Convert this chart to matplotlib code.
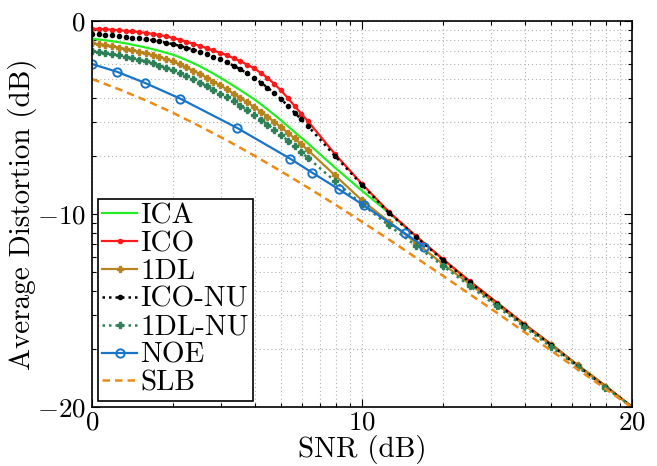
import numpy as np
import matplotlib
matplotlib.use("Agg")
import matplotlib.pyplot as plt
from matplotlib.ticker import FixedLocator, FixedFormatter

plt.rcParams["font.family"] = "cmr10"
plt.rcParams["mathtext.fontset"] = "cm"
plt.rcParams["axes.unicode_minus"] = False

# SNR grid of the simulated curves (dense at low SNR, 1 dB steps later)
snr = np.concatenate([np.arange(0, 8.01, 0.25), np.arange(9, 21)])

ica = [-0.92, -0.96, -1.00, -1.05, -1.10, -1.16, -1.23, -1.30, -1.38, -1.46, -1.55,
       -1.65, -1.75, -1.88, -2.03, -2.18, -2.35, -2.54, -2.73, -2.94, -3.15, -3.37,
       -3.59, -3.82, -4.05, -4.31, -4.58, -4.86, -5.15, -5.45, -5.75, -6.05, -6.35,
       -7.6, -8.8, -9.95, -11.15, -12.35, -13.5, -14.6, -15.7, -16.75, -17.85, -18.9, -20.0]
ico = [-0.40, -0.41, -0.43, -0.45, -0.48, -0.51, -0.54, -0.58, -0.62, -0.67, -0.73,
       -0.80, -0.88, -0.97, -1.07, -1.18, -1.30, -1.41, -1.53, -1.65, -1.78, -1.93,
       -2.09, -2.26, -2.45, -2.69, -2.95, -3.26, -3.60, -3.99, -4.40, -4.80, -5.20,
       -6.9, -8.45, -9.9, -11.15, -12.35, -13.5, -14.6, -15.7, -16.75, -17.85, -18.9, -20.0]
dl1 = [-1.16, -1.21, -1.26, -1.32, -1.38, -1.45, -1.52, -1.60, -1.68, -1.77, -1.87,
       -1.98, -2.10, -2.25, -2.41, -2.58, -2.75, -2.94, -3.14, -3.34, -3.55, -3.77,
       -3.99, -4.22, -4.45, -4.70, -4.96, -5.23, -5.50, -5.79, -6.08, -6.39, -6.70,
       -8.0, -9.3, -10.4, -11.5, -12.6, -13.65, -14.7, -15.75, -16.8, -17.85, -18.95, -20.0]
ico_nu = [-0.67, -0.69, -0.72, -0.75, -0.78, -0.82, -0.86, -0.90, -0.95, -1.00, -1.06,
          -1.13, -1.20, -1.29, -1.38, -1.48, -1.60, -1.72, -1.85, -1.99, -2.15, -2.32,
          -2.51, -2.72, -2.95, -3.19, -3.45, -3.74, -4.05, -4.39, -4.75, -5.10, -5.45,
          -7.0, -8.5, -9.95, -11.2, -12.4, -13.55, -14.65, -15.75, -16.8, -17.9, -18.95, -20.0]
dl1_nu = [-1.54, -1.59, -1.65, -1.71, -1.78, -1.85, -1.93, -2.01, -2.10, -2.20, -2.31,
          -2.43, -2.55, -2.70, -2.86, -3.03, -3.20, -3.38, -3.57, -3.76, -3.95, -4.17,
          -4.39, -4.62, -4.85, -5.11, -5.37, -5.63, -5.90, -6.20, -6.50, -6.80, -7.10,
          -8.3, -9.5, -10.6, -11.65, -12.7, -13.75, -14.8, -15.85, -16.9, -17.95, -19.0, -20.0]

noe_snr = [0, 0.94, 1.96, 3.26, 5.37, 7.33, 8.15, 9.14, 10.06, 11.58, 12.3]
noe = [-2.23, -2.64, -3.21, -4.02, -5.54, -7.13, -7.86, -8.72, -9.55, -11.0, -11.7]

slb_snr = list(range(0, 21))
slb = [-3.01, -3.54, -4.12, -4.76, -5.46, -6.19, -6.97, -7.79, -8.64, -9.51, -10.41,
       -11.33, -12.27, -13.21, -14.17, -15.13, -16.11, -17.08, -18.07, -19.05, -20.04]

fig = plt.figure(figsize=(6.57, 4.66), dpi=100)
ax = fig.add_axes([0.14, 0.127, 0.822, 0.828])

ax.plot(snr, ica, color="#22ee22", lw=1.6, label="ICA")
ax.plot(snr, ico, color="#ff1a1a", lw=1.6, marker=".", ms=6, label="ICO")
ax.plot(snr, dl1, color="#b8821c", lw=1.6, marker="P", ms=4, label="1DL")
ax.plot(snr, ico_nu, color="black", lw=1.8, ls=(0, (1, 1.6)), marker=".", ms=6, label="ICO-NU")
ax.plot(snr, dl1_nu, color="#2e8058", lw=1.8, ls=(0, (1, 1.6)), marker="P", ms=4.5, label="1DL-NU")
ax.plot(noe_snr, noe, color="#1874c8", lw=1.6, marker="o", ms=6, mfc="none", mew=1.4, label="NOE")
ax.plot(slb_snr, slb, color="#ec8a14", lw=1.8, ls=(0, (3, 2)), label="SLB")

ax.set_xlim(0, 20)
ax.set_ylim(-20, 0)

# log-style minor ticks (curves were drawn on log axes and relabelled in dB)
minor_x = [10 * np.log10(k) + d for d in (0, 10) for k in range(2, 10)]
minor_y = [10 * np.log10(k) + d for d in (-20, -10) for k in range(2, 10)]
ax.xaxis.set_major_locator(FixedLocator([0, 10, 20]))
ax.yaxis.set_major_locator(FixedLocator([-20, -10, 0]))
ax.xaxis.set_minor_locator(FixedLocator(minor_x))
ax.yaxis.set_minor_locator(FixedLocator(minor_y))
ax.xaxis.set_major_formatter(FixedFormatter(["$0$", "$10$", "$20$"]))
ax.yaxis.set_major_formatter(FixedFormatter(["$-20$", "$-10$", "$0$"]))

ax.tick_params(which="both", direction="in", top=True, right=True, labelsize=19.5, width=0.8)
ax.tick_params(axis="x", which="major", length=6, pad=3)
ax.tick_params(axis="y", which="major", length=6, pad=4.5)
ax.tick_params(which="minor", length=3)
ax.grid(which="both", color="#b0b0b0", ls=(0, (1, 2.5)), lw=0.8)
for s in ax.spines.values():
    s.set_linewidth(1.2)

ax.set_xlabel("SNR (dB)", fontsize=21, labelpad=0)
ax.set_ylabel("Average Distortion (dB)", fontsize=21, labelpad=0)

leg = ax.legend(loc="lower left", fontsize=21, handlelength=1.2, handletextpad=0.1,
                borderpad=0.15, borderaxespad=0.2, labelspacing=0.05,
                fancybox=False, framealpha=1, edgecolor="black")
leg.get_frame().set_linewidth(1.2)

fig.savefig("out.png", dpi=100)
